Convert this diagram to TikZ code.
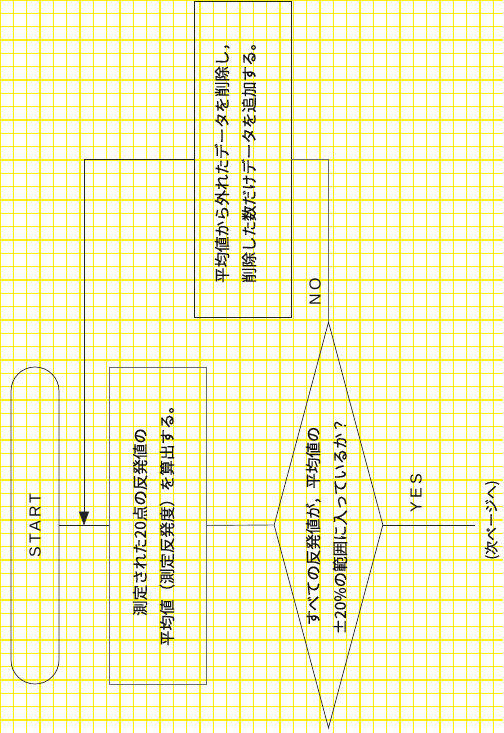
\documentclass[tikz,border=0pt]{standalone}
\usepackage{fontspec}
\usepackage{graphicx}
\setmainfont{Liberation Sans}
\newfontfamily\jp[FakeBold=0.3]{Noto Sans CJK JP}
\newfontfamily\widesans[LetterSpace=20]{Liberation Sans}
\usetikzlibrary{shapes.geometric, arrows.meta, positioning, calc}
\definecolor{gridyellow}{RGB}{255,240,20}
\definecolor{linedark}{RGB}{35,35,35}
\definecolor{linegray}{RGB}{105,105,105}
\definecolor{textdark}{RGB}{20,20,20}
\newcommand{\vtext}[1]{\rotatebox{90}{#1}}
\tikzset{
  gridline/.style={gridyellow, line width=1.2pt},
  terminal/.style={rectangle, draw=linedark, rounded corners=24pt, minimum width=48pt, minimum height=317pt, inner sep=0pt, line width=0.7pt},
  procbox/.style={rectangle, draw=linegray, minimum width=97pt, minimum height=317pt, inner sep=0pt, line width=0.9pt},
  darkbox/.style={procbox, draw=linedark},
  decision/.style={diamond, draw=linedark, minimum width=109pt, minimum height=406pt, inner sep=0pt, line width=0.7pt},
  jplabel/.style={font=\jp\fontsize{15.5}{27}\selectfont, text=textdark, inner sep=0pt},
  latinlabel/.style={font=\widesans\fontsize{16}{18}\selectfont, text=textdark, inner sep=0pt},
  line/.style={line width=0.7pt, color=linedark},
  grayline/.style={line width=0.9pt, color=linegray},
  arrow/.style={-{Triangle[length=14pt, width=10pt]}, line width=0.7pt, color=linedark}
}

\begin{document}
\begin{tikzpicture}[x=1pt, y=-1pt]
  \useasboundingbox (0,0) rectangle (503,733);
  \fill[white] (0,0) rectangle (503,733);

  % Graph paper
  \foreach \k in {0,...,37}
    \draw[gridline] (\k*13.333,0) -- (\k*13.333,733);
  \foreach \k in {0,...,54}
    \draw[gridline] (0,\k*13.333) -- (503,\k*13.333);

  % Blocks
  \node[terminal] (start) at (35,525.5) {};
  \node[latinlabel] (starttxt) at (start.center) {\vtext{START}};
  \node[procbox] (calc) at (157.5,525.5) {};
  \node[jplabel] (calctxt) at (154,522) {\vtext{\begin{tabular}{@{}c@{}}測定された20点の反発値の\\平均値（測定反発度）を算出する。\end{tabular}}};
  \node[darkbox, minimum height=316pt] (fix) at (242.5,159) {};
  \node[jplabel] (fixtxt) at (236,159) {\vtext{\begin{tabular}{@{}l@{}}平均値から外れたデータを削除し，\\削除した数だけデータを追加する。\end{tabular}}};
  \node[decision] (check) at (328.5,525) {};
  \node[jplabel] (checktxt) at (327,526) {\vtext{\begin{tabular}{@{}c@{}}すべての反発値が，平均値の\\±20\%の範囲に入っているか？\end{tabular}}};

  % Free ends
  \coordinate (join) at (84,525.5);
  \coordinate (next) at (475,525);

  % Connectors
  \draw[line] (start.east) -- (calc.west);
  \draw[grayline] (calc.east) -- (check.west);
  \draw[line] (check.east) -- (next);
  \draw[grayline] (check.north) |- (fix.east);
  \draw[arrow] (fix.west) -| (join);

  % Branch labels
  \node[latinlabel] (no) at (315,292) {\vtext{NO}};
  \node[latinlabel] (yes) at (416,493) {\vtext{YES}};
  \node[jplabel, font=\jp\fontsize{14}{16}\selectfont] (nextpage) at (492,520) {\vtext{(次ページへ)}};
\end{tikzpicture}
\end{document}
